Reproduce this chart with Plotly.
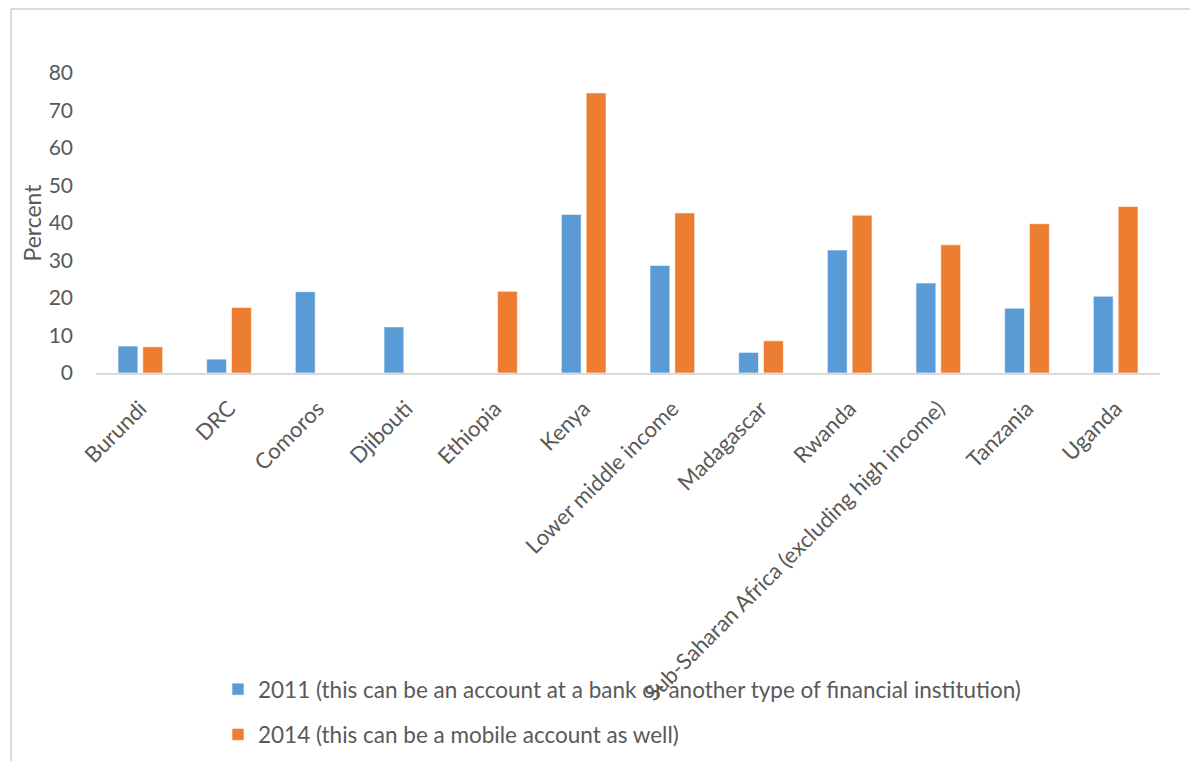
import plotly.graph_objects as go

# Account ownership (% of age 15+), Global Findex
categories = [
    "Burundi", "DRC", "Comoros", "Djibouti", "Ethiopia", "Kenya",
    "Lower middle income", "Madagascar", "Rwanda",
    "Sub-Saharan Africa (excluding high income)", "Tanzania", "Uganda",
]
values_2011 = [7.2, 3.7, 21.7, 12.3, None, 42.3, 28.7, 5.5, 32.8, 24.0, 17.3, 20.5]
values_2014 = [7.0, 17.5, None, None, 21.8, 74.7, 42.7, 8.6, 42.1, 34.2, 39.8, 44.4]

name_2011 = "2011 (this can be an account at a bank or another type of financial institution)"
name_2014 = "2014 (this can be a mobile account as well)"

y_ticks = [0, 10, 20, 30, 40, 50, 60, 70, 80]

BLUE = "#5B9BD5"
ORANGE = "#ED7D31"
TEXT = "#595959"
FONT = "Lato"

W, H = 1190, 761
ML, MR, MT, MB = 96, 30, 73, 388
PW = W - ML - MR
PH = H - MT - MB

fig = go.Figure()
fig.add_trace(go.Bar(
    x=categories, y=values_2011, name=name_2011,
    marker=dict(color=BLUE, line=dict(color="rgba(255,255,255,0.6)", width=1)),
    legendgroup="a",
))
fig.add_trace(go.Bar(
    x=categories, y=values_2014, name=name_2014,
    marker=dict(color=ORANGE, line=dict(color="rgba(255,255,255,0.6)", width=1)),
    legendgroup="b",
))

# chart frame (left and top edges)
fx0 = (11 - ML) / PW
fy1 = (H - 9 - MB) / PH
fig.add_shape(type="line", xref="paper", yref="paper",
              x0=fx0, x1=fx0, y0=fy1, y1=-MB / PH - 0.1,
              line=dict(color="#d9d9d9", width=2))
fig.add_shape(type="line", xref="paper", yref="paper",
              x0=fx0, x1=(W - ML + 20) / PW, y0=fy1, y1=fy1,
              line=dict(color="#d9d9d9", width=2))

fig.update_layout(
    width=W, height=H,
    margin=dict(l=ML, r=MR, t=MT, b=MB, autoexpand=False),
    paper_bgcolor="white", plot_bgcolor="white",
    barmode="group", bargap=0.44, bargroupgap=0.2,
    font=dict(family=FONT, color=TEXT, size=22),
    showlegend=True,
    legend=dict(
        x=(218 - ML) / PW, xanchor="left",
        y=(MT + PH - 668) / PH, yanchor="top",
        orientation="v", tracegroupgap=13,
        font=dict(family=FONT, size=22.5, color=TEXT),
        bgcolor="rgba(0,0,0,0)",
    ),
    xaxis=dict(
        tickangle=-45, showline=True, linecolor="#d9d9d9", linewidth=2,
        showgrid=False, ticks="", automargin=False, ticklabelstandoff=12,
        tickfont=dict(family=FONT, size=22, color=TEXT),
    ),
    yaxis=dict(
        range=[0, 80], tickvals=y_ticks, showgrid=False, zeroline=False,
        showline=False, ticks="", automargin=False, ticklabelstandoff=22,
        tickfont=dict(family=FONT, size=21, color=TEXT),
        title=dict(text="Percent", font=dict(family=FONT, size=23, color=TEXT), standoff=0),
    ),
)

fig.write_html("out.html")
